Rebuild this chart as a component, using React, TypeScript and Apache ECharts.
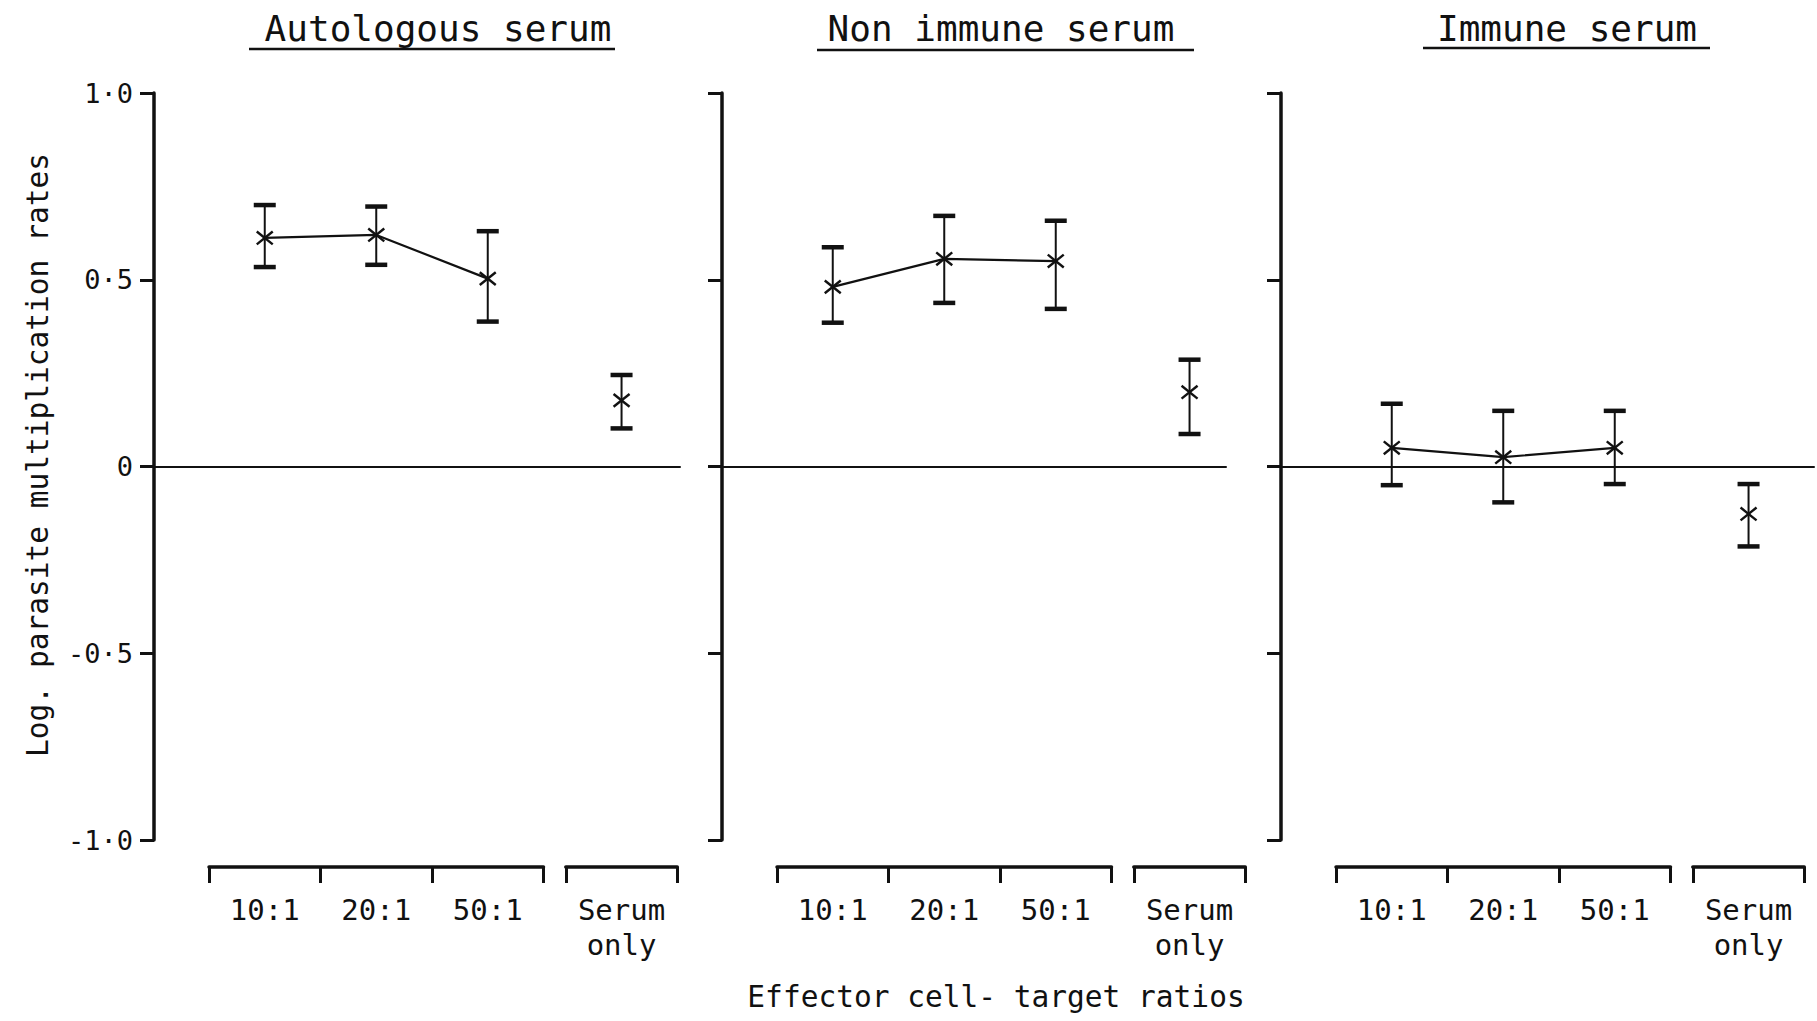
import React, { useEffect, useRef } from "react";
import * as echarts from "echarts";

// ---------- data ----------
const panelTitles = ["Autologous serum", "Non immune serum", "Immune serum"];
const ratioCategories = ["10:1", "20:1", "50:1"];
const serumCategories = ["Serum\nonly"];
const yTickValues = [-1, -0.5, 0, 0.5, 1];
const yTickLabels = ["-1·0", "-0·5", "0", "0·5", "1·0"];
const yAxisTitle = "Log. parasite multiplication rates";
const xAxisTitle = "Effector cell- target ratios";

// index 0..2 = 10:1, 20:1, 50:1 ; index 3 = serum only
const autologousMean = [0.612, 0.62, 0.503, 0.177];
const autologousUpper = [0.70, 0.696, 0.63, 0.245];
const autologousLower = [0.534, 0.54, 0.388, 0.102];

const nonImmuneMean = [0.481, 0.556, 0.55, 0.199];
const nonImmuneUpper = [0.587, 0.671, 0.658, 0.286];
const nonImmuneLower = [0.385, 0.438, 0.422, 0.087];

const immuneMean = [0.05, 0.025, 0.05, -0.127];
const immuneUpper = [0.168, 0.149, 0.149, -0.047];
const immuneLower = [-0.05, -0.096, -0.047, -0.214];

const panelMeans = [autologousMean, nonImmuneMean, immuneMean];
const panelUppers = [autologousUpper, nonImmuneUpper, immuneUpper];
const panelLowers = [autologousLower, nonImmuneLower, immuneLower];

// ---------- layout ----------
const AXIS_X = [154, 722, 1281];
const PANEL_RIGHT = [680, 1226, 1814];
const GRID_TOP = 93;
const GRID_HEIGHT = 747;
const BRACKET_OFFSET = 55;
const UNIT = 111.5;
const SERUM_GAP = 0.2;
const BRACKET_Y = 867;
const TITLE_CX = [438, 1001, 1567];
const TITLE_UNDERLINE = [
  [249, 615, 49],
  [817, 1194, 50],
  [1423, 1710, 48],
];
const INK = "#111";
const FONT = "'DejaVu Sans Mono', 'Liberation Mono', monospace";

const xPos = (i: number) =>
  i < ratioCategories.length ? i + 0.5 : ratioCategories.length + SERUM_GAP + 0.5;

export default function App() {
  const ref = useRef<HTMLDivElement>(null);
  useEffect(() => {
    if (!ref.current) return;
    const chart = echarts.init(ref.current, null, { renderer: "svg" });

    const grid: any[] = [];
    const xAxis: any[] = [];
    const yAxis: any[] = [];
    const series: any[] = [];

    for (let p = 0; p < 3; p++) {
      const w = PANEL_RIGHT[p] - AXIS_X[p];
      // main plot grid
      const gMain = grid.length;
      grid.push({ left: AXIS_X[p], top: GRID_TOP, width: w, height: GRID_HEIGHT });
      xAxis.push({
        gridIndex: gMain,
        type: "value",
        min: -BRACKET_OFFSET / UNIT,
        max: (w - BRACKET_OFFSET) / UNIT,
        axisLine: { show: true, onZero: true, lineStyle: { color: INK, width: 2 } },
        axisTick: { show: false },
        axisLabel: { show: false },
        splitLine: { show: false },
      });
      yAxis.push({
        gridIndex: gMain,
        type: "value",
        min: -1,
        max: 1,
        interval: 0.5,
        axisLine: { show: true, onZero: false, lineStyle: { color: INK, width: 3.5 } },
        axisTick: { show: true, inside: false, length: 14, lineStyle: { color: INK, width: 3 } },
        axisLabel: {
          show: p === 0,
          margin: 21,
          color: INK,
          fontFamily: FONT,
          fontSize: 27,
          formatter: (v: number) => {
            const k = yTickValues.findIndex((t) => Math.abs(t - v) < 1e-9);
            return k >= 0 ? yTickLabels[k] : "";
          },
        },
        splitLine: { show: false },
      });

      // bracket for ratio categories
      const gBr = grid.length;
      grid.push({
        left: AXIS_X[p] + BRACKET_OFFSET,
        top: BRACKET_Y - 10,
        width: ratioCategories.length * UNIT,
        height: 10,
      });
      const bracketAxis = (gi: number, data: string[]) => ({
        gridIndex: gi,
        type: "category",
        data,
        boundaryGap: true,
        position: "bottom",
        axisLine: { show: true, onZero: false, lineStyle: { color: INK, width: 3.5 } },
        axisTick: { show: true, inside: false, length: 16, lineStyle: { color: INK, width: 3 } },
        axisLabel: {
          color: INK,
          fontFamily: FONT,
          fontSize: 29,
          lineHeight: 35,
          margin: 25,
          interval: 0,
        },
        splitLine: { show: false },
      });
      xAxis.push(bracketAxis(gBr, ratioCategories));
      yAxis.push({ gridIndex: gBr, type: "value", show: false });

      // bracket for serum only
      const gSe = grid.length;
      grid.push({
        left: AXIS_X[p] + BRACKET_OFFSET + (ratioCategories.length + SERUM_GAP) * UNIT,
        top: BRACKET_Y - 10,
        width: serumCategories.length * UNIT,
        height: 10,
      });
      xAxis.push(bracketAxis(gSe, serumCategories));
      yAxis.push({ gridIndex: gSe, type: "value", show: false });

      const means = panelMeans[p];
      const uppers = panelUppers[p];
      const lowers = panelLowers[p];
      const axisIdx = xAxis.length - 3; // main axis index for this panel

      // connecting line for ratio points
      series.push({
        type: "line",
        xAxisIndex: axisIdx,
        yAxisIndex: axisIdx,
        data: ratioCategories.map((_, i) => [xPos(i), means[i]]),
        symbol: "none",
        lineStyle: { color: INK, width: 2.2 },
        silent: true,
      });

      // error bars + crosses
      series.push({
        type: "custom",
        xAxisIndex: axisIdx,
        yAxisIndex: axisIdx,
        data: means.map((m, i) => [xPos(i), m, uppers[i], lowers[i]]),
        renderItem: (params: any, api: any) => {
          const x = api.value(0);
          const pm = api.coord([x, api.value(1)]);
          const pu = api.coord([x, api.value(2)]);
          const pl = api.coord([x, api.value(3)]);
          const cap = 11;
          const cs = 8;
          return {
            type: "group",
            children: [
              { type: "line", shape: { x1: pu[0], y1: pu[1], x2: pl[0], y2: pl[1] }, style: { stroke: INK, lineWidth: 2 } },
              { type: "line", shape: { x1: pu[0] - cap, y1: pu[1], x2: pu[0] + cap, y2: pu[1] }, style: { stroke: INK, lineWidth: 4.5 } },
              { type: "line", shape: { x1: pl[0] - cap, y1: pl[1], x2: pl[0] + cap, y2: pl[1] }, style: { stroke: INK, lineWidth: 4.5 } },
              { type: "line", shape: { x1: pm[0] - cs, y1: pm[1] - cs * 0.8, x2: pm[0] + cs, y2: pm[1] + cs * 0.8 }, style: { stroke: INK, lineWidth: 2.4 } },
              { type: "line", shape: { x1: pm[0] - cs, y1: pm[1] + cs * 0.8, x2: pm[0] + cs, y2: pm[1] - cs * 0.8 }, style: { stroke: INK, lineWidth: 2.4 } },
            ],
          };
        },
        silent: true,
      });
    }

    const graphic: any[] = [];
    panelTitles.forEach((t, p) => {
      graphic.push({
        type: "text",
        x: TITLE_CX[p],
        y: 28,
        style: {
          text: t,
          fill: INK,
          font: `36px ${FONT}`,
          textAlign: "center",
          textVerticalAlign: "middle",
        },
      });
      const u = TITLE_UNDERLINE[p];
      graphic.push({
        type: "line",
        shape: { x1: u[0], y1: u[2], x2: u[1], y2: u[2] },
        style: { stroke: INK, lineWidth: 2.5 },
      });
    });
    graphic.push({
      type: "text",
      x: 38,
      y: 455,
      rotation: Math.PI / 2,
      style: {
        text: yAxisTitle,
        fill: INK,
        font: `29.5px ${FONT}`,
        textAlign: "center",
        textVerticalAlign: "middle",
      },
    });
    graphic.push({
      type: "text",
      x: 996,
      y: 997,
      style: {
        text: xAxisTitle,
        fill: INK,
        font: `29.5px ${FONT}`,
        textAlign: "center",
        textVerticalAlign: "middle",
      },
    });

    chart.setOption({
      animation: false,
      backgroundColor: "#fff",
      grid,
      xAxis,
      yAxis,
      series,
      graphic,
    });
    return () => chart.dispose();
  }, []);

  return (
    <div
      ref={ref}
      style={{ position: "fixed", left: 0, top: 0, width: 1817, height: 1021, background: "#fff" }}
    />
  );
}
